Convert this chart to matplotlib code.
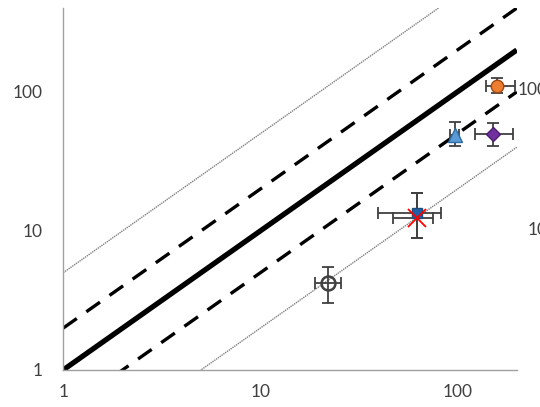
import numpy as np
import matplotlib
matplotlib.use("Agg")
import matplotlib.pyplot as plt

plt.rcParams['font.family'] = ['Lato', 'DejaVu Sans']

# reference lines (ratio to y = x)
ratios = [1, 2, 0.5, 5, 0.2]

# data points: x, y, x error (low, high), y error (low, high)
names = ['orange', 'triangle', 'diamond', 'square', 'cross', 'open']
xs = [158, 97, 151, 62, 62, 22.1]
ys = [110, 49, 50, 13.5, 12.4, 4.2]
x_lo = [139, 92, 123, 39.6, 47, 19]
x_hi = [195, 102, 191, 83, 75, 25.7]
y_lo = [98, 41, 41, 8.9, 8.9, 3.03]
y_hi = [126, 61, 60, 18.8, 18.8, 5.5]

fig = plt.figure(figsize=(5.4, 4.07), dpi=100)
ax = fig.add_axes([0.117, 0.091, 0.840, 0.889])
ax.set_xscale('log')
ax.set_yscale('log')
ax.set_xlim(1, 200)
ax.set_ylim(1, 400)

xl = np.array([1, 200.0])
for r in ratios:
    if r == 1:
        ax.plot(xl, xl * r, color='black', lw=3.8, solid_capstyle='butt', zorder=2)
    elif r in (2, 0.5):
        ax.plot(xl, xl * r, color='black', lw=2.4, dashes=(5, 3.5), zorder=2)
    else:
        ax.plot(xl, xl * r, color='#808080', lw=1.0, ls=(0, (1, 0.6)), zorder=2)

styles = {
    'orange': dict(marker='o', ms=9, mfc='#ED7D31', mec='#9C4A12'),
    'triangle': dict(marker='^', ms=10, mfc='#5B9BD5', mec='#2E6DA4'),
    'diamond': dict(marker='D', ms=7, mfc='#7030A0', mec='#4B1E6E'),
    'square': dict(marker='s', ms=7, mfc='#1F5FA8', mec='#1F4E79'),
    'cross': dict(marker='x', ms=13, mfc='none', mec='#FF0000', mew=1.3),
    'open': dict(marker='o', ms=10, mfc='none', mec='#404040', mew=1.8),
}

for i, n in enumerate(names):
    xerr = [[xs[i] - x_lo[i]], [x_hi[i] - xs[i]]]
    yerr = [[ys[i] - y_lo[i]], [y_hi[i] - ys[i]]]
    ax.errorbar([xs[i]], [ys[i]], xerr=xerr, yerr=yerr, fmt='none',
                ecolor='#404040', elinewidth=1.3, capsize=4, capthick=1.3, zorder=3)
    ax.plot([xs[i]], [ys[i]], ls='none', zorder=4, **styles[n])

ax.set_xticks([1, 10, 100])
ax.set_xticklabels(['1', '10', '100'])
ax.set_yticks([1, 10, 100])
ax.set_yticklabels(['1', '10', '100'])
ax.minorticks_off()
ax.tick_params(length=0, labelsize=12.5, colors='#404040', pad=10)
ax.tick_params(axis='y', pad=15)
for s in ['top', 'right']:
    ax.spines[s].set_visible(False)
for s in ['left', 'bottom']:
    ax.spines[s].set_color('#A0A0A0')
    ax.spines[s].set_linewidth(1.0)

# labels cut by the right edge, as in the original
fig.text(518 / 540, 1 - 90 / 407, '100', fontsize=12.5, color='#404040', va='center')
fig.text(528 / 540, 1 - 230 / 407, '10', fontsize=12.5, color='#404040', va='center')

fig.savefig('out.png', dpi=100)
